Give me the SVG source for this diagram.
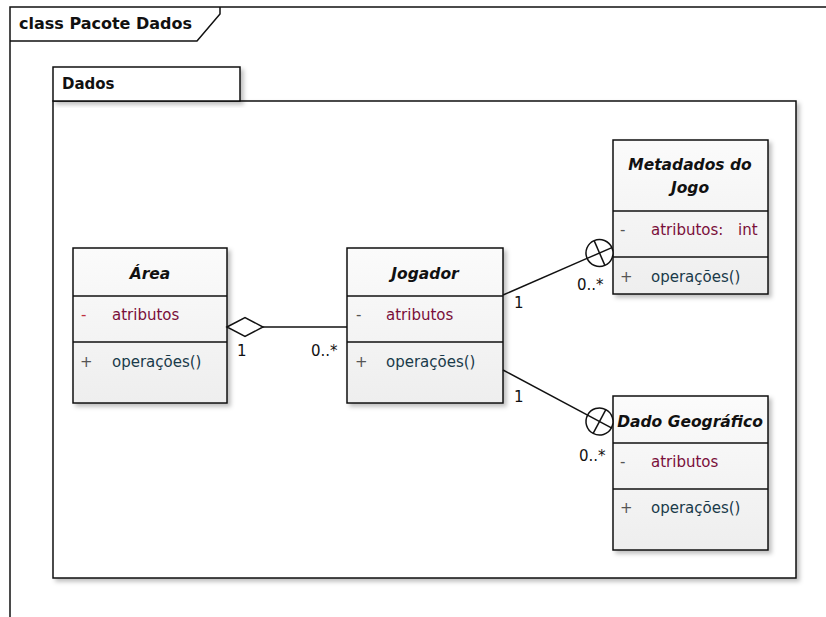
<svg xmlns="http://www.w3.org/2000/svg" width="826" height="617" viewBox="0 0 826 617">
<defs>
  <style>
    .frame{fill:none;stroke:#111;stroke-width:1.5}
    .box{fill:url(#cg);stroke:#111;stroke-width:1.5;filter:url(#sh)}
    .pkg{fill:#fff;stroke:#111;stroke-width:1.5;filter:url(#sh)}
    .div{stroke:#111;stroke-width:1.5}
    .ttl{font-family:"DejaVu Sans",sans-serif;font-weight:bold;font-size:16px;fill:#111}
    .cname{font-family:"DejaVu Sans",sans-serif;font-weight:bold;font-style:italic;font-size:15.5px;fill:#111;text-anchor:middle}
    .attr{font-family:"DejaVu Sans",sans-serif;font-size:15px;fill:#7a0f3a}
    .op{font-family:"DejaVu Sans",sans-serif;font-size:15px;fill:#1a3a4a}
    .vis{font-family:"DejaVu Sans",sans-serif;font-size:15px;fill:#555}
    .mult{font-family:"DejaVu Sans",sans-serif;font-size:15px;fill:#111}
    .conn{fill:none;stroke:#111;stroke-width:1.5}
  </style>
  <linearGradient id="cg" x1="0" y1="0" x2="0" y2="1">
    <stop offset="0" stop-color="#fbfbfb"/>
    <stop offset="1" stop-color="#eeeeee"/>
  </linearGradient>
  <filter id="sh" x="-10%" y="-10%" width="130%" height="130%">
    <feDropShadow dx="3" dy="3" stdDeviation="2" flood-color="#000" flood-opacity="0.25"/>
  </filter>
  <g id="nest">
    <circle cx="0" cy="0" r="13.5" fill="#fff" stroke="#111" stroke-width="1.5"/>
    <line x1="-13.5" y1="0" x2="13.5" y2="0" stroke="#111" stroke-width="1.5"/>
    <line x1="0" y1="-13.5" x2="0" y2="13.5" stroke="#111" stroke-width="1.5"/>
  </g>
</defs>
<rect width="826" height="617" fill="#fff"/>

<g id="frame">
  <path class="frame" d="M10,617 V7 H826"/>
  <path class="frame" d="M10,41 H197 L220,14 V7"/>
  <text class="ttl" x="19" y="29">class Pacote Dados</text>
</g>

<g id="pacote-dados">
  <rect class="pkg" x="53" y="101" width="743" height="477"/>
  <rect class="pkg" x="53" y="67" width="187" height="34"/>
  <text class="ttl" x="62" y="89" style="font-size:15px">Dados</text>
</g>

<g id="area">
  <rect class="box" x="73" y="248" width="154" height="155"/>
  <line class="div" x1="73" y1="296" x2="227" y2="296"/>
  <line class="div" x1="73" y1="342" x2="227" y2="342"/>
  <text class="cname" x="150" y="279">Área</text>
  <text class="vis" x="81" y="320" style="fill:#c03040">-</text>
  <text class="attr" x="112" y="320">atributos</text>
  <text class="vis" x="80" y="367">+</text>
  <text class="op" x="112" y="367">operações()</text>
</g>

<g id="jogador">
  <rect class="box" x="347" y="248" width="156" height="155"/>
  <line class="div" x1="347" y1="296" x2="503" y2="296"/>
  <line class="div" x1="347" y1="342" x2="503" y2="342"/>
  <text class="cname" x="425" y="279">Jogador</text>
  <text class="vis" x="356" y="320">-</text>
  <text class="attr" x="386" y="320">atributos</text>
  <text class="vis" x="355" y="367">+</text>
  <text class="op" x="386" y="367">operações()</text>
</g>

<g id="metadados-do-jogo">
  <rect class="box" x="613" y="140" width="155" height="154"/>
  <line class="div" x1="613" y1="211" x2="768" y2="211"/>
  <line class="div" x1="613" y1="257" x2="768" y2="257"/>
  <text class="cname" x="690" y="170">Metadados do</text>
  <text class="cname" x="690" y="193">Jogo</text>
  <text class="vis" x="620" y="235">-</text>
  <text class="attr" x="651" y="235">atributos:<tspan x="738">int</tspan></text>
  <text class="vis" x="620" y="282">+</text>
  <text class="op" x="651" y="282">operações()</text>
</g>

<g id="dado-geografico">
  <rect class="box" x="613" y="396" width="155" height="154"/>
  <line class="div" x1="613" y1="443" x2="768" y2="443"/>
  <line class="div" x1="613" y1="489" x2="768" y2="489"/>
  <text class="cname" x="690" y="427">Dado Geográfico</text>
  <text class="vis" x="620" y="467">-</text>
  <text class="attr" x="651" y="467">atributos</text>
  <text class="vis" x="620" y="513">+</text>
  <text class="op" x="651" y="513">operações()</text>
</g>

<g id="connectors">
  <line class="conn" x1="263" y1="327" x2="347" y2="327"/>
  <polygon points="227,327 245,317.5 263,327 245,336.5" fill="#fff" stroke="#111" stroke-width="1.5"/>
  <text class="mult" x="237" y="356">1</text>
  <text class="mult" x="311" y="356">0..*</text>

  <line class="conn" x1="503" y1="295" x2="587" y2="258.4"/>
  <use href="#nest" transform="translate(599.5,253) rotate(-23.5)"/>
  <text class="mult" x="514" y="308">1</text>
  <text class="mult" x="577" y="290">0..*</text>

  <line class="conn" x1="503" y1="370" x2="587.6" y2="415.2"/>
  <use href="#nest" transform="translate(599.5,421.5) rotate(28)"/>
  <text class="mult" x="514" y="402">1</text>
  <text class="mult" x="579" y="461">0..*</text>
</g>
</svg>
